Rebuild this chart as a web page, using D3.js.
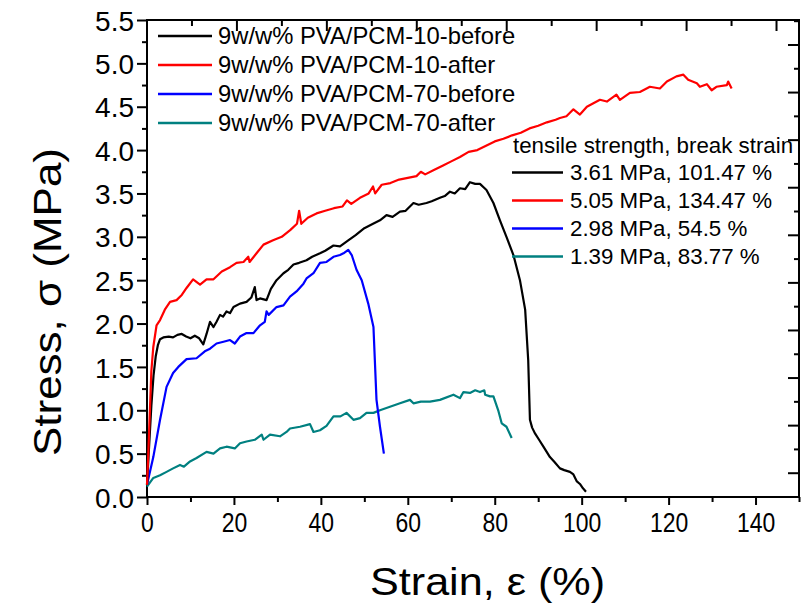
<!DOCTYPE html>
<html><head><meta charset="utf-8">
<script src="https://cdn.jsdelivr.net/npm/d3@7"></script>
<style>body{margin:0;background:#fff}svg{display:block}text{font-family:"Liberation Sans",Arial,sans-serif;fill:#000}</style>
</head><body><svg id="c" width="804" height="603"></svg>
<script>
// ---- data ----
const seriesNames = ["9w/w% PVA/PCM-10-before","9w/w% PVA/PCM-10-after","9w/w% PVA/PCM-70-before","9w/w% PVA/PCM-70-after"];
const seriesColors = ["#000000","#ff0000","#0000ff","#008080"];
const summaryTitle = "tensile strength, break strain";
const summaryLabels = ["3.61 MPa, 101.47 %","5.05 MPa, 134.47 %","2.98 MPa, 54.5 %","1.39 MPa, 83.77 %"];
const xTickLabels = [0,20,40,60,80,100,120,140];
const yTickLabels = [0,0.5,1,1.5,2,2.5,3,3.5,4,4.5,5,5.5];

const strain10Before = [0,0.5,1,1.5,2,2.5,3,3.75,5,6,7,8,9,10,11,12,12.95,13.7,14.5,15.3,16,16.8,17.5,18.3,19.1,19.9,21.4,22.9,24,24.8,25.2,26,27.5,28.5,29.8,31.4,32.5,33.7,35,36.7,38,39.8,41,42.9,44.4,46.3,48,50,52,53.6,55.1,56.5,58.2,59.5,61.3,62.5,64.3,65.5,67.4,68.5,69.7,70.8,72,73.2,74.3,75.5,76.6,78.1,79.7,81.2,82.7,84.3,85.8,87,87.7,88.1,88.6,89.3,90.2,91.2,92.7,93.8,95,96,97.3,98.1,98.9,99.6,100.3,101.0];
const stress10Before = [0.14,0.6,1.05,1.4,1.62,1.75,1.82,1.84,1.85,1.84,1.87,1.88,1.85,1.83,1.86,1.83,1.76,1.88,2.02,1.96,2.02,2.1,2.08,2.14,2.12,2.19,2.23,2.25,2.3,2.42,2.27,2.29,2.27,2.4,2.5,2.58,2.62,2.68,2.7,2.73,2.77,2.81,2.84,2.9,2.89,2.96,3.02,3.1,3.15,3.19,3.25,3.23,3.29,3.3,3.39,3.37,3.39,3.41,3.45,3.47,3.52,3.5,3.56,3.55,3.63,3.61,3.61,3.54,3.39,3.19,3.0,2.79,2.5,2.16,1.58,0.89,0.8,0.73,0.66,0.58,0.46,0.4,0.33,0.31,0.29,0.26,0.18,0.15,0.1,0.06];

const strain10After = [0,0.3,0.7,1.0,1.45,2.2,3,4.1,5.3,6.8,8,9.1,10.6,12.2,13.7,15.3,17.2,19.1,20.6,22.2,23.3,23.6,25.2,26.8,29,31,33,34.5,35,35.5,37,39,41,43,45,46,47,49,51,52,52.5,54,56,58,60,62,63,64,66,68,70,72,74,76,78,80,82,84,86,88,90,92,94,95,96.5,98.1,99.6,101.2,102.7,104.2,105.8,108,108.8,111.1,113.4,115.7,118,119.6,121.8,123.4,124.5,126.5,127.2,128.8,129.9,131,133.4,133.7,134.5];
const stress10After = [0.14,0.5,1.04,1.45,1.73,1.98,2.04,2.16,2.25,2.27,2.33,2.41,2.51,2.45,2.51,2.51,2.6,2.65,2.7,2.71,2.77,2.71,2.81,2.91,2.96,3.0,3.08,3.15,3.3,3.15,3.22,3.27,3.3,3.33,3.35,3.42,3.38,3.45,3.5,3.58,3.5,3.6,3.62,3.66,3.68,3.7,3.75,3.72,3.77,3.82,3.87,3.92,3.98,4.0,4.05,4.1,4.13,4.17,4.2,4.25,4.28,4.32,4.35,4.37,4.39,4.47,4.41,4.5,4.54,4.58,4.56,4.64,4.58,4.66,4.67,4.73,4.71,4.79,4.85,4.87,4.81,4.77,4.73,4.76,4.69,4.73,4.75,4.79,4.71];

const strain70Before = [0,1.45,3,4.5,6,7.2,9.1,11.4,13.3,14.5,16,17.6,19.1,20.2,21.4,22.9,24.5,26,27.1,27.5,28,29.8,31.4,32.9,34.4,36,36.7,38.3,39.8,41.3,42.9,44.4,45.2,46.3,47.1,48.2,49.4,50.9,52.1,52.8,53.6,54.5];
const stress70Before = [0.14,0.46,0.89,1.27,1.43,1.5,1.59,1.6,1.68,1.71,1.77,1.79,1.81,1.77,1.85,1.89,1.89,1.98,2.02,2.14,2.1,2.19,2.21,2.31,2.37,2.46,2.52,2.58,2.7,2.71,2.77,2.79,2.81,2.85,2.79,2.62,2.5,2.23,1.96,1.12,0.81,0.5];

const strain70After = [0,1.45,3,4.5,6,7.6,8.5,9.9,11.4,13.7,15.3,16.8,18.3,20.2,21.4,22.9,24.8,26.4,26.8,28.3,30.6,32.1,32.9,35.2,37.5,38.3,39.8,41.3,42.9,44.5,45.9,47.5,49,50.5,52.1,53.6,55.9,58.2,60.5,61.3,63,65.1,67.4,70.5,72,72.8,74.3,75.5,76.6,77.6,77.8,78.9,79.7,80.8,81.6,82.7,83.9];
const stress70After = [0.12,0.22,0.25,0.29,0.33,0.37,0.35,0.41,0.45,0.52,0.5,0.56,0.58,0.56,0.62,0.64,0.66,0.72,0.66,0.72,0.7,0.75,0.79,0.81,0.84,0.75,0.77,0.82,0.93,0.93,0.97,0.89,0.91,0.97,0.97,1.0,1.04,1.08,1.12,1.08,1.1,1.1,1.12,1.18,1.14,1.21,1.2,1.23,1.21,1.23,1.18,1.16,1.16,1.0,0.85,0.81,0.68];

// ---- layout ----
const L=147,R=799,T=20,B=497;
const svg=d3.select("#c");
svg.append("rect").attr("width",804).attr("height",603).attr("fill","#fff");
const x=d3.scaleLinear().domain([0,150]).range([L,R]);
const y=d3.scaleLinear().domain([0,5.5]).range([B,T]);
const xTop=d3.scaleLinear().domain([0,145]).range([L,R]);
const yRight=d3.scaleLinear().domain([0,20.05]).range([B,T]);

// bottom axis
const gx=svg.append("g").attr("transform",`translate(0,${B})`);
gx.call(d3.axisBottom(x).tickValues(xTickLabels).tickSize(8).tickSizeOuter(0).tickFormat(d3.format("d")));
gx.append("g").call(d3.axisBottom(x).tickValues(d3.range(10,151,20)).tickSize(5).tickFormat(""));
gx.selectAll(".domain").remove();
gx.selectAll("line").attr("stroke","#000").attr("stroke-width",2);
gx.selectAll("text").attr("font-size",28).attr("dy","0.95em").attr("y",8)
  .attr("transform","scale(0.82,1)");

// left axis
const gy=svg.append("g").attr("transform",`translate(${L},0)`);
gy.call(d3.axisLeft(y).tickValues(yTickLabels).tickSize(10).tickSizeOuter(0).tickFormat(d3.format(".1f")));
gy.append("g").call(d3.axisLeft(y).tickValues(d3.range(0.25,5.5,0.5)).tickSize(5).tickFormat(""));
gy.selectAll(".domain").remove();
gy.selectAll("line").attr("stroke","#000").attr("stroke-width",2);
gy.selectAll("text").attr("font-size",28).attr("x",-13).attr("dy","0.36em");

// top mirror ticks (inward)
svg.append("g").selectAll("line").data(d3.range(10,146,10)).join("line")
  .attr("x1",d=>xTop(d)).attr("x2",d=>xTop(d)).attr("y1",T).attr("y2",d=>T+(d%20===0?11:6))
  .attr("stroke","#000").attr("stroke-width",2);
// right mirror ticks (inward)
svg.append("g").selectAll("line").data(d3.range(1,21)).join("line")
  .attr("y1",d=>yRight(d)).attr("y2",d=>yRight(d)).attr("x1",R).attr("x2",d=>R-(d%2===1?11:5))
  .attr("stroke","#000").attr("stroke-width",2);

// frame
svg.append("rect").attr("x",L).attr("y",T).attr("width",R-L).attr("height",B-T)
  .attr("fill","none").attr("stroke","#000").attr("stroke-width",2);

// curves
const line=d3.line().x(d=>x(d[0])).y(d=>y(d[1]));
const data=[[strain10Before,stress10Before],[strain10After,stress10After],[strain70Before,stress70Before],[strain70After,stress70After]];
const order=[3,2,0,1];
order.forEach(i=>{
  const pts=data[i][0].map((v,j)=>[v,data[i][1][j]]);
  svg.append("path").datum(pts).attr("d",line).attr("fill","none")
    .attr("stroke",seriesColors[i]).attr("stroke-width",2.2).attr("stroke-linejoin","round");
});

// legend 1
const lg=svg.append("g");
seriesNames.forEach((n,i)=>{
  const yy=36+i*29;
  lg.append("line").attr("x1",158).attr("x2",212).attr("y1",yy).attr("y2",yy).attr("stroke",seriesColors[i]).attr("stroke-width",2.5);
  lg.append("text").attr("x",218).attr("y",yy+8).attr("font-size",23.8).text(n);
});
// legend 2
const lg2=svg.append("g");
lg2.append("text").attr("x",513).attr("y",153).attr("font-size",22.3).text(summaryTitle);
summaryLabels.forEach((n,i)=>{
  const yy=172.5+i*28;
  lg2.append("line").attr("x1",512).attr("x2",563).attr("y1",yy).attr("y2",yy).attr("stroke",seriesColors[i]).attr("stroke-width",2.5);
  lg2.append("text").attr("x",570).attr("y",yy+7.5).attr("font-size",22.3).text(n);
});

// axis titles
svg.append("text").attr("x",370).attr("y",595).attr("font-size",38)
  .attr("textLength",235).attr("lengthAdjust","spacingAndGlyphs").text("Strain, ε (%)");
svg.append("text").attr("transform","translate(61,456) rotate(-90)").attr("font-size",38)
  .attr("textLength",308).attr("lengthAdjust","spacingAndGlyphs").text("Stress, σ (MPa)");
</script></body></html>
